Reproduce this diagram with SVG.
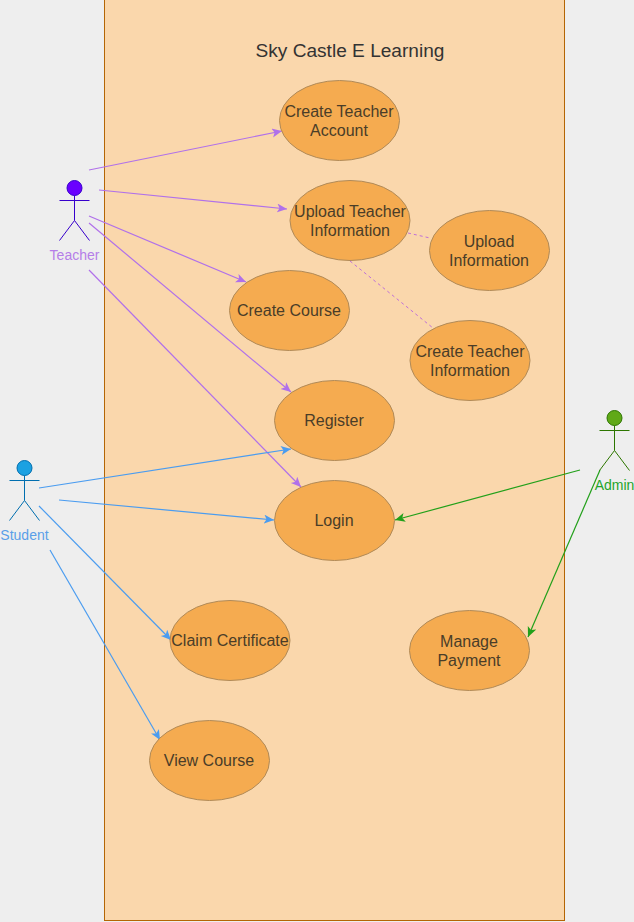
<svg xmlns="http://www.w3.org/2000/svg" width="634" height="922" viewBox="0 0 634 922">
<style>
text{font-family:"Liberation Sans",Arial,sans-serif;text-anchor:middle}
.uc ellipse{fill:#f5ab50;stroke:#b08a58;stroke-width:1}
.uc text{font-size:16px;fill:#4a3d28}
.p{stroke:#b070ea;stroke-width:1.2;fill:none}
.b{stroke:#4a9cf0;stroke-width:1.2;fill:none}
.g{stroke:#22a01a;stroke-width:1.2;fill:none}
.d{stroke:#c070d8;stroke-width:1;fill:none;stroke-dasharray:3 3}
.pa{marker-end:url(#mp)}
.ba{marker-end:url(#mb)}
.ga{marker-end:url(#mg)}
.lb{font-size:14px}
</style>
<defs>
<marker id="mp" markerUnits="userSpaceOnUse" markerWidth="12" markerHeight="10" refX="10" refY="4.5" orient="auto"><path d="M0 0L10 4.5L0 9L2.5 4.5Z" fill="#b070ea"/></marker>
<marker id="mb" markerUnits="userSpaceOnUse" markerWidth="12" markerHeight="10" refX="10" refY="4.5" orient="auto"><path d="M0 0L10 4.5L0 9L2.5 4.5Z" fill="#4a9cf0"/></marker>
<marker id="mg" markerUnits="userSpaceOnUse" markerWidth="12" markerHeight="10" refX="10" refY="4.5" orient="auto"><path d="M0 0L10 4.5L0 9L2.5 4.5Z" fill="#22a01a"/></marker>
</defs>
<rect width="634" height="922" fill="#eeeeee"/>
<g id="boundary">
<rect x="104.500" y="-1" width="460" height="921.500" fill="#fad7ac" stroke="#b46504"/>
<text x="350" y="57" font-size="19.100" fill="#333333">Sky Castle E Learning</text>
</g>
<g id="connectors">
<path class="p pa" d="M89 170L282 131"/>
<path class="p pa" d="M99 190L287 209"/>
<path class="p pa" d="M89 216L246 282"/>
<path class="p pa" d="M89 223L291 392"/>
<path class="p pa" d="M89 270L301 487"/>
<path class="d" d="M408 233L430 238"/>
<path class="d" d="M350 261L433 328"/>
<path class="b ba" d="M39 488L291 449"/>
<path class="b ba" d="M59 500L274 520"/>
<path class="b ba" d="M39 506L171 640"/>
<path class="b ba" d="M50 550L160 740"/>
<path class="g ga" d="M580 470L395 520"/>
<path class="g ga" d="M600 470L528 637"/>
</g>
<g id="uc-create-teacher-account" class="uc"><ellipse cx="339.500" cy="120.500" rx="60" ry="40"/><text x="339" y="117">Create Teacher</text><text x="339" y="136">Account</text></g>
<g id="uc-upload-teacher-information" class="uc"><ellipse cx="350" cy="220.500" rx="60" ry="40"/><text x="350" y="217">Upload Teacher</text><text x="350" y="236">Information</text></g>
<g id="uc-upload-information" class="uc"><ellipse cx="489.500" cy="250.500" rx="60" ry="40"/><text x="489" y="247">Upload</text><text x="489" y="266">Information</text></g>
<g id="uc-create-course" class="uc"><ellipse cx="289.500" cy="310.500" rx="60" ry="40"/><text x="289" y="316">Create Course</text></g>
<g id="uc-create-teacher-information" class="uc"><ellipse cx="470" cy="360.500" rx="60" ry="40"/><text x="470" y="357">Create Teacher</text><text x="470" y="376">Information</text></g>
<g id="uc-register" class="uc"><ellipse cx="334.500" cy="420.500" rx="60" ry="40"/><text x="334" y="426">Register</text></g>
<g id="uc-login" class="uc"><ellipse cx="334.500" cy="520.500" rx="60" ry="40"/><text x="334" y="526">Login</text></g>
<g id="uc-claim-certificate" class="uc"><ellipse cx="230" cy="640.500" rx="60" ry="40"/><text x="230" y="646">Claim Certificate</text></g>
<g id="uc-manage-payment" class="uc"><ellipse cx="469.500" cy="650.500" rx="60" ry="40"/><text x="469" y="647">Manage</text><text x="469" y="666">Payment</text></g>
<g id="uc-view-course" class="uc"><ellipse cx="209.500" cy="760.500" rx="60" ry="40"/><text x="209" y="766">View Course</text></g>
<g id="actor-teacher">
<circle cx="74.500" cy="188" r="7.500" fill="#6a00ff" stroke="#3700cc"/>
<path d="M74.500 195.500V220.500M59.500 200.500H89.500M59.500 240.500L74.500 220.500L89.500 240.500" fill="none" stroke="#3700cc"/>
<text x="74.500" y="260" class="lb" fill="#b57ee8">Teacher</text>
</g>
<g id="actor-student">
<circle cx="24.500" cy="468" r="7.500" fill="#1ba1e2" stroke="#006eaf"/>
<path d="M24.500 475.500V500.500M9.500 480.500H39.500M9.500 520.500L24.500 500.500L39.500 520.500" fill="none" stroke="#006eaf"/>
<text x="24.500" y="540" class="lb" fill="#5a9fe8">Student</text>
</g>
<g id="actor-admin">
<circle cx="614.500" cy="418" r="7.500" fill="#60a917" stroke="#2d7600"/>
<path d="M614.500 425.500V450.500M599.500 430.500H629.500M599.500 470.500L614.500 450.500L629.500 470.500" fill="none" stroke="#2d7600"/>
<text x="614.500" y="490" class="lb" fill="#1fa52a">Admin</text>
</g>
</svg>
